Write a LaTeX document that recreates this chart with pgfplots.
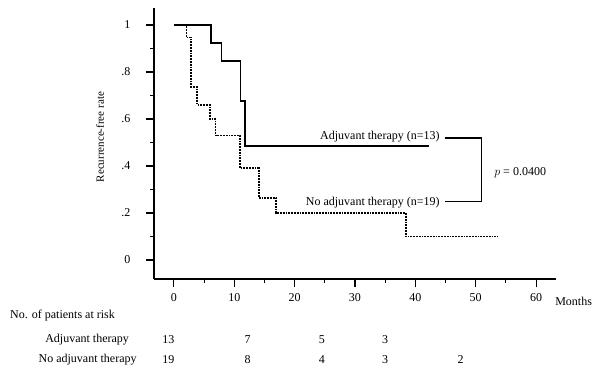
\documentclass[border=0pt]{standalone}
\usepackage{pgfplots}
\pgfplotsset{compat=1.18}
\usepackage{fontspec}
\setmainfont{Liberation Serif}
\begin{document}
\begin{tikzpicture}[font=\fontsize{12}{14}\selectfont]
\useasboundingbox (-154pt,-91pt) rectangle (441pt,279pt);
\begin{axis}[
  at={(0pt,0pt)}, anchor=south west,
  scale only axis, width=402pt, height=271pt,
  xmin=-3.3, xmax=63.3, ymin=-0.0809, ymax=1.0723,
  axis x line*=bottom, axis y line*=left,
  axis line style={-, line width=1.6pt},
  tick align=outside,
  major tick length=8pt, minor tick length=4pt,
  every tick/.style={black, line width=1.1pt},
  xtick={0,10,20,30,40,50,60},
  minor xtick={5,15,25,35,45,55},
  ytick={0,0.2,0.4,0.6,0.8,1},
  yticklabels={0,.2,.4,.6,.8,1},
  minor ytick={0.1,0.3,0.5,0.7,0.9},
  /pgf/number format/assume math mode=true,
  ticklabel style={font=\fontsize{12}{14}\selectfont},
  yticklabel style={xshift=-12pt},
  xticklabel style={yshift=-3pt},
  clip=false,
  ylabel={Recurrence-free rate},
  ylabel style={at={(axis cs:-12.24,0.523)}, anchor=center, font=\fontsize{11}{13}\selectfont},
]
% Adjuvant therapy
\addplot[const plot, black, line width=1.6pt] coordinates {
 (0,1) (6.1,0.923) (7.9,0.846) (11.0,0.677) (11.8,0.484) (42.3,0.484)};
% No adjuvant therapy
\addplot[const plot, black, densely dotted, line width=1.8pt] coordinates {
 (0,1) (2.1,0.947) (2.85,0.737) (3.85,0.66) (5.95,0.6) (6.9,0.53) (11.0,0.39) (14.05,0.265) (16.9,0.2) (38.4,0.1) (53.6,0.1)};
% bracket
\addplot[black, line width=1.1pt] coordinates {(44.9,0.519) (51.0,0.519) (51.0,0.247) (44.9,0.247)};
\node[anchor=east] at (axis cs:44.6,0.523) {Adjuvant therapy (n=13)};
\node[anchor=east] at (axis cs:44.6,0.243) {No adjuvant therapy (n=19)};
\node[anchor=west] at (axis cs:52.5,0.37) {$p$ = 0.0400};
\node[anchor=west] at (axis cs:62.6,-0.175) {Months};
% risk table
\node[anchor=west] at (axis cs:-27.7,-0.238) {No. of patients at risk};
\node[anchor=west] at (axis cs:-21.9,-0.340) {Adjuvant therapy};
\node[anchor=west] at (axis cs:-23.0,-0.4255) {No adjuvant therapy};
\node at (axis cs:-0.9,-0.340) {13};
\node at (axis cs:12.2,-0.340) {7};
\node at (axis cs:24.5,-0.340) {5};
\node at (axis cs:35,-0.340) {3};
\node at (axis cs:-0.9,-0.4255) {19};
\node at (axis cs:12.2,-0.4255) {8};
\node at (axis cs:24.5,-0.4255) {4};
\node at (axis cs:35,-0.4255) {3};
\node at (axis cs:47.5,-0.4255) {2};
\end{axis}
\end{tikzpicture}
\end{document}
